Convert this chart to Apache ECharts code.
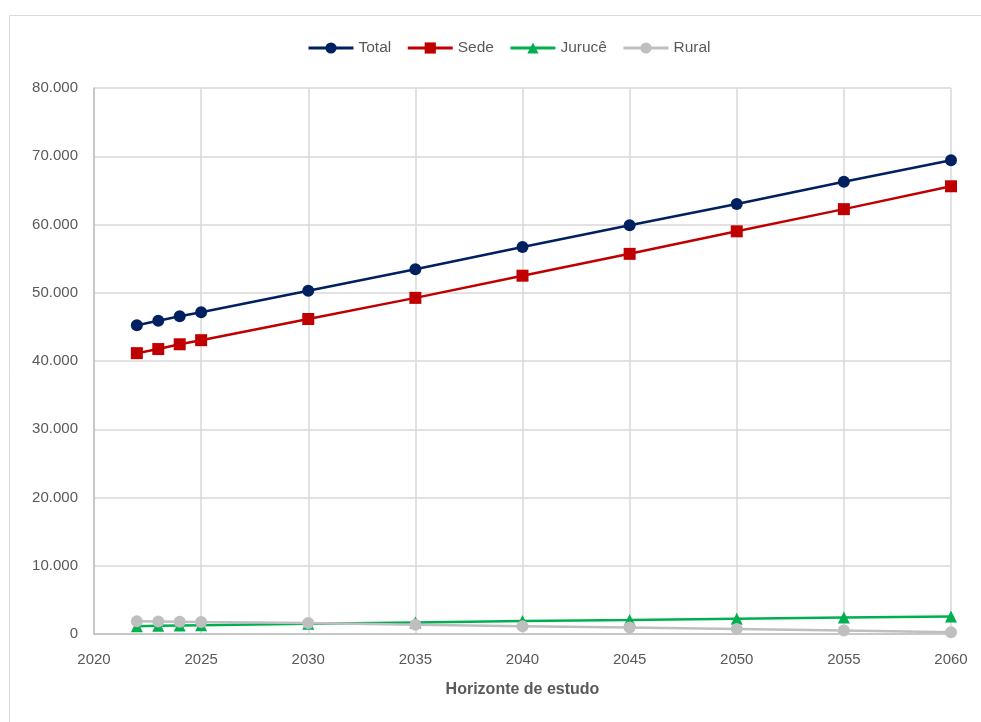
<!DOCTYPE html>
<html>
<head>
<meta charset="utf-8">
<script src="https://cdn.jsdelivr.net/npm/echarts@6/dist/echarts.min.js"></script>
<style>
  html, body { margin: 0; padding: 0; background: #fff; }
  #chart { width: 981px; height: 722px; }
</style>
</head>
<body>
<div id="chart"></div>
<script>
// Population projection by area (inhabitants)
const years = [2022, 2023, 2024, 2025, 2030, 2035, 2040, 2045, 2050, 2055, 2060];
const total = [45250, 45900, 46550, 47150, 50300, 53450, 56700, 59900, 63000, 66250, 69400];
const sede = [41150, 41750, 42450, 43050, 46150, 49250, 52500, 55700, 59000, 62250, 65600];
const jurucê = [1150, 1200, 1250, 1300, 1500, 1700, 1900, 2050, 2250, 2400, 2550];
const rural = [1850, 1830, 1800, 1750, 1600, 1350, 1150, 950, 750, 500, 250];
const seriesNames = ['Total', 'Sede', 'Jurucê', 'Rural'];
const xAxisTitle = 'Horizonte de estudo';

const font = 'Liberation Sans, Arial, sans-serif';
const textColor = '#595959';

function pairs(vals) {
  return years.map((y, i) => [y, vals[i]]);
}
function thousands(v) {
  return String(v).replace(/\B(?=(\d{3})+(?!\d))/g, '.');
}
function lineSeries(name, vals, color, symbol, size) {
  return {
    name: name,
    type: 'line',
    data: pairs(vals),
    symbol: symbol,
    symbolSize: size,
    showAllSymbol: true,
    lineStyle: { color: color, width: 2.5 },
    itemStyle: { color: color },
    emphasis: { disabled: true },
    animation: false
  };
}

const chart = echarts.init(document.getElementById('chart'), null, { renderer: 'canvas' });
chart.setOption({
  backgroundColor: '#ffffff',
  animation: false,
  graphic: [{
    type: 'rect',
    shape: { x: 9.5, y: 15.5, width: 990, height: 720 },
    style: { fill: 'none', stroke: '#d9d9d9', lineWidth: 1 },
    silent: true
  }],
  legend: {
    top: 35,
    left: 302,
    itemWidth: 45,
    itemHeight: 14,
    itemGap: 15,
    itemTextGap: 3,
    lineStyle: { width: 3 },
    textStyle: { fontFamily: font, fontSize: 15.5, color: textColor },
    data: seriesNames
  },
  grid: { left: 94, right: 30, top: 88, bottom: 88 },
  xAxis: {
    type: 'value',
    min: 2020,
    max: 2060,
    interval: 5,
    name: xAxisTitle,
    nameLocation: 'middle',
    nameGap: 48,
    nameTextStyle: { fontFamily: font, fontSize: 16, fontWeight: 'bold', color: textColor },
    axisLine: { lineStyle: { color: '#bfbfbf', width: 1.5 } },
    axisTick: { show: false },
    axisLabel: { fontFamily: font, fontSize: 15, color: textColor, margin: 18, formatter: v => String(v) },
    splitLine: { show: true, lineStyle: { color: '#d9d9d9', width: 1.5 } }
  },
  yAxis: {
    type: 'value',
    min: 0,
    max: 80000,
    interval: 10000,
    axisLine: { show: true, lineStyle: { color: '#bfbfbf', width: 1.5 } },
    axisTick: { show: false },
    axisLabel: { fontFamily: font, fontSize: 15, color: textColor, margin: 16, formatter: thousands },
    splitLine: { show: true, lineStyle: { color: '#d9d9d9', width: 1.5 } }
  },
  series: [
    lineSeries(seriesNames[0], total, '#002060', 'circle', 12),
    lineSeries(seriesNames[1], sede, '#C00000', 'rect', 12),
    lineSeries(seriesNames[2], jurucê, '#00B050', 'triangle', 12),
    lineSeries(seriesNames[3], rural, '#BFBFBF', 'circle', 12)
  ]
});
</script>
</body>
</html>
